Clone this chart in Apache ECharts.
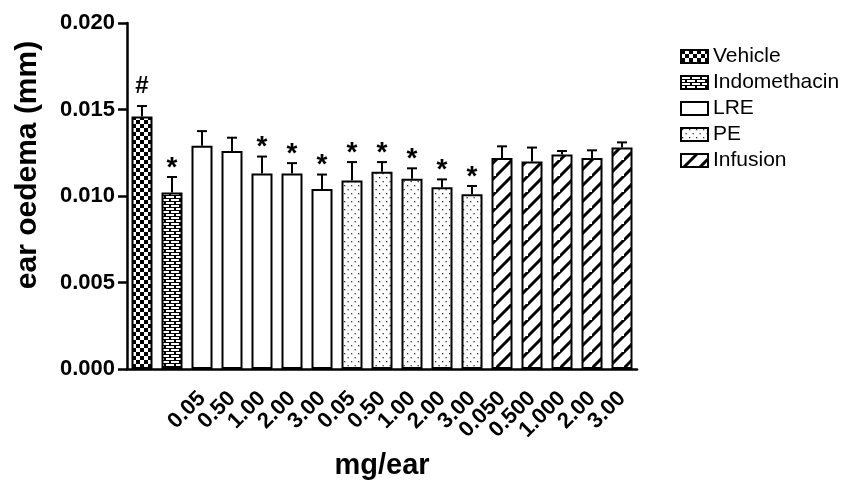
<!DOCTYPE html>
<html>
<head>
<meta charset="utf-8">
<script src="https://cdn.jsdelivr.net/npm/echarts@6/dist/echarts.min.js"></script>
<style>
  html, body { margin: 0; padding: 0; background: #fff; }
  #chart { width: 846px; height: 485px; }
</style>
</head>
<body>
<div id="chart"></div>
<script>
// Treatment groups and doses (mg/ear)
const groupNames = ['Vehicle', 'Indomethacin', 'LRE', 'PE', 'Infusion'];
const vehicleDoses = [''];
const indoDoses = [''];
const lreDoses = ['0.05', '0.50', '1.00', '2.00', '3.00'];
const peDoses = ['0.05', '0.50', '1.00', '2.00', '3.00'];
const infusionDoses = ['0.050', '0.500', '1.000', '2.00', '3.00'];

// Mean ear oedema (mm)
const vehicleMean = [0.0146];
const indoMean = [0.0102];
const lreMean = [0.0129, 0.0126, 0.0113, 0.0113, 0.0104];
const peMean = [0.0109, 0.0114, 0.0110, 0.0105, 0.0101];
const infusionMean = [0.0122, 0.0120, 0.0124, 0.0122, 0.0128];

// Standard error of the mean (mm)
const vehicleSem = [0.0006];
const indoSem = [0.0009];
const lreSem = [0.00085, 0.00077, 0.00098, 0.0006, 0.00084];
const peSem = [0.00106, 0.00056, 0.0006, 0.00046, 0.00048];
const infusionSem = [0.00067, 0.0008, 0.0002, 0.00044, 0.0003];

// Significance marks
const vehicleMarks = ['#'];
const indoMarks = ['*'];
const lreMarks = ['', '', '*', '*', '*'];
const peMarks = ['*', '*', '*', '*', '*'];
const infusionMarks = ['', '', '', '', ''];

const FONT = "'Liberation Sans', Arial, Helvetica, sans-serif";

// ---- fill patterns ----
function makeCanvas(w, h) {
  const c = document.createElement('canvas');
  c.width = w; c.height = h;
  return c;
}
function checkerPattern() {
  const c = makeCanvas(8, 8), g = c.getContext('2d');
  g.fillStyle = '#fff'; g.fillRect(0, 0, 8, 8);
  g.fillStyle = '#000'; g.fillRect(0, 0, 4, 4); g.fillRect(4, 4, 4, 4);
  return c;
}
function brickPattern() {
  const c = makeCanvas(10, 6), g = c.getContext('2d');
  g.fillStyle = '#000'; g.fillRect(0, 0, 10, 6);
  g.fillStyle = '#fff';
  g.fillRect(1, 1, 8, 2);
  g.fillRect(0, 4, 4, 2); g.fillRect(6, 4, 4, 2);
  return c;
}
function plainPattern() {
  const c = makeCanvas(4, 4), g = c.getContext('2d');
  g.fillStyle = '#fff'; g.fillRect(0, 0, 4, 4);
  return c;
}
function dotPattern() {
  const c = makeCanvas(7, 8), g = c.getContext('2d');
  g.fillStyle = '#fff'; g.fillRect(0, 0, 7, 8);
  g.fillStyle = '#333';
  g.fillRect(1, 1, 1.3, 1.3);
  g.fillRect(4.5, 5, 1.3, 1.3);
  return c;
}
function hatchPattern() {
  const s = 16;
  const c = makeCanvas(s, s), g = c.getContext('2d');
  g.fillStyle = '#fff'; g.fillRect(0, 0, s, s);
  g.strokeStyle = '#000'; g.lineWidth = 3; g.lineCap = 'square';
  g.beginPath();
  g.moveTo(-2, s + 2); g.lineTo(s + 2, -2);
  g.moveTo(-2 - s, s + 2); g.lineTo(2, -2);
  g.moveTo(s - 2, 2 * s + 2); g.lineTo(2 * s + 2, s - 2);
  g.stroke();
  return c;
}

const groups = [
  { name: groupNames[0], doses: vehicleDoses, mean: vehicleMean, sem: vehicleSem, marks: vehicleMarks, fill: checkerPattern() },
  { name: groupNames[1], doses: indoDoses, mean: indoMean, sem: indoSem, marks: indoMarks, fill: brickPattern() },
  { name: groupNames[2], doses: lreDoses, mean: lreMean, sem: lreSem, marks: lreMarks, fill: plainPattern() },
  { name: groupNames[3], doses: peDoses, mean: peMean, sem: peSem, marks: peMarks, fill: dotPattern() },
  { name: groupNames[4], doses: infusionDoses, mean: infusionMean, sem: infusionSem, marks: infusionMarks, fill: hatchPattern() }
];

// Flatten groups into one category axis
const categories = [];
const doseLabels = [];
const errorData = [];
groups.forEach(gr => {
  gr.doses.forEach((d, i) => {
    const idx = categories.length;
    categories.push(gr.name + ' ' + idx);
    doseLabels.push(d);
    errorData.push([idx, gr.mean[i], gr.sem[i], gr.marks[i]]);
  });
});

const barSeries = [];
let offset = 0;
groups.forEach(gr => {
  const data = categories.map(() => '-');
  gr.mean.forEach((v, i) => { data[offset + i] = v; });
  offset += gr.mean.length;
  barSeries.push({
    name: gr.name,
    type: 'bar',
    data: data,
    barWidth: 21,
    barGap: '-100%',
    itemStyle: {
      color: { image: gr.fill, repeat: 'repeat' },
      borderColor: '#000',
      borderWidth: 2
    },
    emphasis: { disabled: true },
    animation: false
  });
});

const errorSeries = {
  type: 'custom',
  data: errorData,
  z: 5,
  animation: false,
  silent: true,
  renderItem: function (params, api) {
    const x = api.value(0);
    const mean = api.value(1);
    const sem = api.value(2);
    const mark = errorData[params.dataIndex][3];
    const top = api.coord([x, mean]);
    const cap = api.coord([x, mean + sem]);
    const hw = 5;
    const children = [
      { type: 'line', shape: { x1: top[0], y1: top[1], x2: cap[0], y2: cap[1] }, style: { stroke: '#000', lineWidth: 2 } },
      { type: 'line', shape: { x1: cap[0] - hw, y1: cap[1], x2: cap[0] + hw, y2: cap[1] }, style: { stroke: '#000', lineWidth: 2 } }
    ];
    if (mark) {
      const isHash = mark === '#';
      children.push({
        type: 'text',
        style: {
          text: mark,
          x: cap[0],
          y: cap[1] - (isHash ? 8 : -5),
          align: 'center',
          verticalAlign: 'bottom',
          font: (isHash ? 'bold 24px ' : 'bold 28px ') + FONT,
          fill: '#000'
        }
      });
    }
    return { type: 'group', children: children };
  }
};

const chart = echarts.init(document.getElementById('chart'), null, { renderer: 'canvas' });
chart.setOption({
  animation: false,
  backgroundColor: '#fff',
  textStyle: { fontFamily: FONT },
  grid: { left: 127, top: 23, width: 510, bottom: 115, containLabel: false },
  legend: {
    orient: 'vertical',
    left: 675,
    top: 41,
    itemWidth: 27,
    itemHeight: 13,
    itemGap: 5,
    icon: 'rect',
    selectedMode: false,
    textStyle: { fontSize: 21, color: '#000', fontFamily: FONT },
    data: groupNames
  },
  xAxis: {
    type: 'category',
    data: categories,
    name: 'mg/ear',
    nameLocation: 'middle',
    nameGap: 82,
    nameTextStyle: { fontSize: 29, fontWeight: 'bold', color: '#000', fontFamily: FONT },
    axisLine: { lineStyle: { color: '#000', width: 2.5 } },
    axisTick: { alignWithLabel: true, length: 9, lineStyle: { color: '#000', width: 2.5 } },
    axisLabel: {
      interval: 0,
      rotate: 45,
      margin: 26,
      fontSize: 22,
      fontWeight: 'bold',
      color: '#000',
      fontFamily: FONT,
      formatter: function (val, idx) { return doseLabels[idx]; }
    },
    splitLine: { show: false }
  },
  yAxis: {
    type: 'value',
    min: 0,
    max: 0.020,
    interval: 0.005,
    name: 'ear oedema (mm)',
    nameLocation: 'middle',
    nameGap: 84,
    nameTextStyle: { fontSize: 30, fontWeight: 'bold', color: '#000', fontFamily: FONT, padding: [0, 0, 0, 62] },
    axisLine: { show: true, lineStyle: { color: '#000', width: 2.5 } },
    axisTick: { show: true, length: 9, lineStyle: { color: '#000', width: 2.5 } },
    axisLabel: {
      margin: 12,
      fontSize: 22,
      fontWeight: 'bold',
      color: '#000',
      fontFamily: FONT,
      formatter: function (v) { return v.toFixed(3); }
    },
    splitLine: { show: false }
  },
  series: barSeries.concat([errorSeries])
});
</script>
</body>
</html>
